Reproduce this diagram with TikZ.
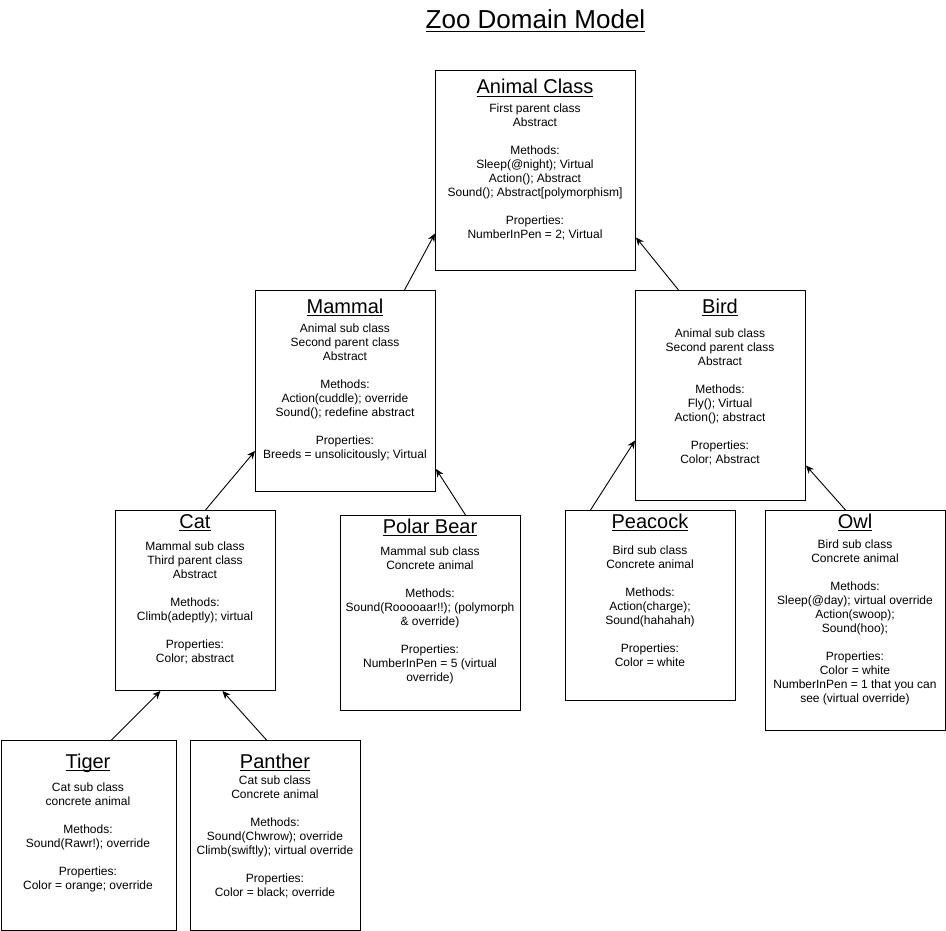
\documentclass[tikz,border=0pt]{standalone}
\usepackage{fontspec}
\setmainfont{Liberation Sans}
\usetikzlibrary{arrows.meta}

% underlined text with adjustable offset and thickness
\newcommand\myul[3]{\setbox0\hbox{#1}\leavevmode\rlap{\rule[-#2]{\wd0}{#3}}\box0}
% strut fixing the height of the first body line
\newcommand\fl{\rule{0pt}{10pt}}
\newcommand\gap{\\[14pt]}

\begin{document}
\begin{tikzpicture}[x=1pt,y=-1pt,
  classbox/.style={draw=black, line width=1pt, fill=white, rectangle, inner sep=0pt, anchor=north west},
  heading/.style={anchor=base, inner sep=0pt, font=\fontsize{20}{24}\selectfont},
  body/.style={anchor=north, inner sep=0pt, align=center, font=\fontsize{12}{14}\selectfont},
  inherit/.style={draw=black, line width=0.9pt, -{Stealth[length=8pt,width=7pt,inset=2.5pt]}}
]
\useasboundingbox (0,0) rectangle (946,931);
\fill[white] (0,0) rectangle (946,931);

% title
\node[anchor=base, inner sep=0pt, font=\fontsize{26}{30}\selectfont] (title) at (535.5,28.5)
  {\myul{Zoo Domain Model}{4pt}{1.8pt}};

% class boxes
\node[classbox, minimum width=200, minimum height=200] (animal)  at (435,70)   {};
\node[classbox, minimum width=180, minimum height=201] (mammal)  at (255,290)  {};
\node[classbox, minimum width=170, minimum height=210] (bird)    at (635,290)  {};
\node[classbox, minimum width=160, minimum height=180] (cat)     at (115,510)  {};
\node[classbox, minimum width=180, minimum height=195] (polar)   at (340,515)  {};
\node[classbox, minimum width=170, minimum height=190] (peacock) at (565,510)  {};
\node[classbox, minimum width=180, minimum height=220] (owl)     at (765,510)  {};
\node[classbox, minimum width=175, minimum height=190] (tiger)   at (0.5,740)  {};
\node[classbox, minimum width=170, minimum height=190] (panther) at (190,740)  {};

% headings
\node[heading] (animalT)  at (535,94)  {\myul{Animal Class}{3pt}{1.3pt}};
\node[heading] (mammalT)  at (345,313) {\myul{Mammal}{3pt}{1.3pt}};
\node[heading] (birdT)    at (720,313) {\myul{Bird}{3pt}{1.3pt}};
\node[heading] (catT)     at (195,528) {\myul{Cat}{3pt}{1.3pt}};
\node[heading] (polarT)   at (430,533) {\myul{Polar Bear}{3pt}{1.3pt}};
\node[heading] (peacockT) at (650,528) {\myul{Peacock}{3pt}{1.3pt}};
\node[heading] (owlT)     at (855,528) {\myul{Owl}{3pt}{1.3pt}};
\node[heading] (tigerT)   at (88,768)  {\myul{Tiger}{3pt}{1.3pt}};
\node[heading] (pantherT) at (275,768) {\myul{Panther}{3pt}{1.3pt}};

% descriptions
\node[body] (animalB) at (535,102) {\fl First parent class\\Abstract\gap
  Methods:\\Sleep(@night); Virtual\\Action(); Abstract\\Sound(); Abstract[polymorphism]\gap
  Properties:\\NumberInPen = 2; Virtual};
\node[body] (mammalB) at (345,322) {\fl Animal sub class\\Second parent class\\Abstract\gap
  Methods:\\Action(cuddle); override\\Sound(); redefine abstract\gap
  Properties:\\Breeds = unsolicitously; Virtual};
\node[body] (birdB) at (720,327) {\fl Animal sub class\\Second parent class\\Abstract\gap
  Methods:\\Fly(); Virtual\\Action(); abstract\gap
  Properties:\\Color; Abstract};
\node[body] (catB) at (195,540) {\fl Mammal sub class\\Third parent class\\Abstract\gap
  Methods:\\Climb(adeptly); virtual\gap
  Properties:\\Color; abstract};
\node[body] (polarB) at (430,545) {\fl Mammal sub class\\Concrete animal\gap
  Methods:\\Sound(Rooooaar!!); (polymorph\\\& override)\gap
  Properties:\\NumberInPen = 5 (virtual\\override)};
\node[body] (peacockB) at (650,544) {\fl Bird sub class\\Concrete animal\gap
  Methods:\\Action(charge);\\Sound(hahahah)\gap
  Properties:\\Color = white};
\node[body] (owlB) at (855,538) {\fl Bird sub class\\Concrete animal\gap
  Methods:\\Sleep(@day); virtual override\\Action(swoop);\\Sound(hoo);\gap
  Properties:\\Color = white\\NumberInPen = 1 that you can\\see (virtual override)};
\node[body] (tigerB) at (88,781) {\fl Cat sub class\\concrete animal\gap
  Methods:\\Sound(Rawr!); override\gap
  Properties:\\Color = orange; override};
\node[body] (pantherB) at (275,774) {\fl Cat sub class\\Concrete animal\gap
  Methods:\\Sound(Chwrow); override\\Climb(swiftly); virtual override\gap
  Properties:\\Color = black; override};

% inheritance arrows, child to parent
\draw[inherit] ([xshift=59pt]mammal.north)   -- ([yshift=-63pt]animal.west);
\draw[inherit] ([xshift=-42pt]bird.north)    -- ([yshift=-67pt]animal.east);
\draw[inherit] ([xshift=10pt]cat.north)      -- ([yshift=-60pt]mammal.west);
\draw[inherit] ([xshift=35pt]polar.north)    -- ([yshift=-78pt]mammal.east);
\draw[inherit] ([xshift=-60pt]peacock.north) -- ([yshift=-45pt]bird.west);
\draw[inherit] ([xshift=-10pt]owl.north)     -- ([yshift=-70pt]bird.east);
\draw[inherit] ([xshift=23pt]tiger.north)    -- ([xshift=-35pt]cat.south);
\draw[inherit] ([xshift=-9pt]panther.north)  -- ([xshift=27pt]cat.south);
\end{tikzpicture}
\end{document}
